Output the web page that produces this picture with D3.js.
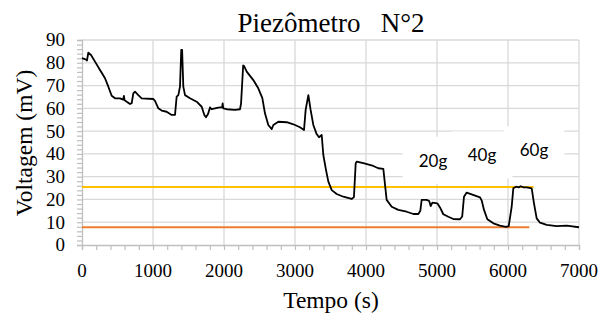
<!DOCTYPE html>
<html>
<head>
<meta charset="utf-8">
<script src="https://cdn.jsdelivr.net/npm/d3@7"></script>
<style>
  html, body { margin: 0; padding: 0; background: #fff; }
  svg { display: block; }
</style>
</head>
<body>
<svg id="chart" width="611" height="321"></svg>
<script>
// ---- data ----
const timeS = [0, 50, 70, 89, 127, 183, 254, 324, 371, 418, 465, 535, 580, 590, 600, 676, 700, 723, 746, 793, 840, 1005, 1030, 1075, 1122, 1192, 1263, 1310, 1333, 1357, 1380, 1398, 1410, 1427, 1451, 1521, 1615, 1686, 1723, 1746, 1775, 1803, 1826, 1920, 1975, 1981, 1990, 2038, 2155, 2225, 2240, 2270, 2282, 2320, 2413, 2483, 2540, 2577, 2624, 2672, 2695, 2765, 2883, 2977, 3070, 3127, 3150, 3188, 3220, 3258, 3305, 3338, 3376, 3399, 3437, 3470, 3517, 3587, 3681, 3798, 3830, 3855, 3869, 3962, 4103, 4173, 4244, 4291, 4362, 4455, 4573, 4667, 4737, 4765, 4784, 4855, 4890, 4911, 4935, 5005, 5042, 5089, 5160, 5230, 5324, 5355, 5380, 5418, 5488, 5606, 5630, 5662, 5709, 5794, 5887, 5972, 6010, 6052, 6075, 6113, 6150, 6180, 6220, 6263, 6334, 6366, 6404, 6451, 6545, 6686, 6827, 7000];
const voltageMV = [82.0, 81.5, 81.0, 84.4, 83.4, 80.5, 76.8, 73.2, 69.5, 65.5, 64.4, 64.4, 63.8, 65.5, 63.5, 61.9, 62.3, 66.6, 67.3, 65.8, 64.4, 64.1, 63.2, 60.0, 59.0, 58.5, 57.1, 57.1, 65.1, 65.8, 69.5, 85.6, 85.6, 69.5, 65.8, 64.4, 62.9, 60.7, 57.1, 56.1, 57.5, 60.4, 59.6, 60.3, 60.5, 62.2, 60.0, 59.6, 59.3, 59.6, 62.0, 78.8, 78.6, 76.1, 72.4, 68.8, 64.5, 57.8, 52.7, 50.9, 52.7, 54.1, 53.9, 53.0, 51.7, 50.5, 59.3, 65.8, 59.3, 52.7, 48.7, 47.3, 48.3, 39.5, 32.9, 27.8, 24.1, 22.4, 21.2, 20.2, 21.0, 35.9, 36.6, 35.9, 34.7, 33.7, 33.4, 19.8, 16.8, 15.4, 14.6, 13.6, 13.6, 15.0, 19.8, 19.8, 19.3, 17.1, 18.6, 18.3, 16.5, 13.5, 12.4, 11.4, 11.3, 12.5, 21.2, 23.0, 22.2, 20.9, 19.5, 15.4, 11.3, 9.5, 8.5, 8.0, 8.3, 16.8, 24.9, 25.6, 25.3, 25.8, 25.3, 25.3, 24.9, 18.3, 11.7, 9.8, 8.8, 8.3, 8.5, 7.8];

// horizontal reference levels: [level (mV), start time, end time]
const refLevels = [25.5, 7.8];
const refStarts = [0, 0];
const refEnds = [6360, 6300];
const refColors = ["#FFC000", "#ED7D31"];

// annotation labels (anchor in data units)
const noteTexts = ["20g", "40g", "60g"];
const noteTimes = [4944, 5634, 6366];
const noteVolts = [37.0, 39.3, 41.5];

const xTicks = [0, 1000, 2000, 3000, 4000, 5000, 6000, 7000];
const yTicks = [0, 10, 20, 30, 40, 50, 60, 70, 80, 90];
const xMinorTicks = d3.range(0, 7001, 200);
const yMinorTicks = d3.range(0, 91, 2);

const titleText = "Piezômetro   N°2";
const xTitle = "Tempo (s)";
const yTitle = "Voltagem (mV)";

// ---- layout ----
const svg = d3.select("#chart");
const L = 82, R = 579, T = 40, B = 245;
const x = d3.scaleLinear().domain([0, 7000]).range([L, R]);
const y = d3.scaleLinear().domain([0, 90]).range([B, T]);
const serif = "'Liberation Serif', 'Times New Roman', serif";
const gridColor = "#d9d9d9";
const axisColor = "#bfbfbf";

// gridlines
svg.append("g").selectAll("line").data(yTicks.filter(d => d > 0)).join("line")
  .attr("x1", L).attr("x2", R).attr("y1", d => y(d)).attr("y2", d => y(d))
  .attr("stroke", gridColor).attr("stroke-width", 1.3);
svg.append("g").selectAll("line").data(xTicks.filter(d => d > 0)).join("line")
  .attr("x1", d => x(d)).attr("x2", d => x(d)).attr("y1", T).attr("y2", B)
  .attr("stroke", gridColor).attr("stroke-width", 1.3);

// axes
const xAxisG = svg.append("g").attr("transform", `translate(0,${B})`)
  .call(d3.axisBottom(x).tickValues(xMinorTicks).tickSize(5).tickFormat(""));
const yAxisG = svg.append("g").attr("transform", `translate(${L},0)`)
  .call(d3.axisLeft(y).tickValues(yMinorTicks).tickSize(5).tickFormat(""));
[xAxisG, yAxisG].forEach(g => {
  g.select(".domain").attr("stroke", axisColor).attr("stroke-width", 1.3);
  g.selectAll(".tick line").attr("stroke", axisColor).attr("stroke-width", 1.2);
});

// tick labels
svg.append("g").selectAll("text").data(xTicks).join("text")
  .attr("x", d => x(d)).attr("y", 277)
  .attr("text-anchor", "middle")
  .attr("font-family", serif).attr("font-size", 19).attr("fill", "#000")
  .text(d => d);
svg.append("g").selectAll("text").data(yTicks).join("text")
  .attr("x", 65).attr("y", d => y(d))
  .attr("dy", "0.34em")
  .attr("text-anchor", "end")
  .attr("font-family", serif).attr("font-size", 19).attr("fill", "#000")
  .text(d => d);

// annotation boxes (white, covering gridlines)
const noteG = svg.append("g");
noteTexts.forEach((t, i) => {
  const g = noteG.append("g");
  const txt = g.append("text")
    .attr("x", x(noteTimes[i])).attr("y", y(noteVolts[i]))
    .attr("dy", "0.35em")
    .attr("text-anchor", "middle")
    .attr("font-family", "Lato, 'Noto Sans', sans-serif")
    .attr("font-size", 17).attr("fill", "#000")
    .text(t);
  const bb = txt.node().getBBox();
  g.insert("rect", "text")
    .attr("x", bb.x - 16).attr("y", bb.y - 13)
    .attr("width", bb.width + 32).attr("height", bb.height + 26)
    .attr("fill", "#fff");
});

// reference lines
svg.append("g").selectAll("line").data(refLevels).join("line")
  .attr("x1", (d, i) => x(refStarts[i])).attr("x2", (d, i) => x(refEnds[i]))
  .attr("y1", d => y(d)).attr("y2", d => y(d))
  .attr("stroke", (d, i) => refColors[i]).attr("stroke-width", 2);

// data line
const pts = timeS.map((t, i) => [t, voltageMV[i]]);
svg.append("path").datum(pts)
  .attr("fill", "none").attr("stroke", "#000").attr("stroke-width", 1.8)
  .attr("stroke-linejoin", "round")
  .attr("d", d3.line().x(d => x(d[0])).y(d => y(d[1])));

// titles
svg.append("text").attr("x", 331).attr("y", 32)
  .attr("text-anchor", "middle").attr("font-family", serif).attr("font-size", 27)
  .attr("xml:space", "preserve").style("white-space", "pre")
  .text(titleText);
svg.append("text").attr("x", 331).attr("y", 308)
  .attr("text-anchor", "middle").attr("font-family", serif).attr("font-size", 23.5)
  .text(xTitle);
svg.append("text")
  .attr("transform", `translate(32,143) rotate(-90)`)
  .attr("text-anchor", "middle").attr("font-family", serif).attr("font-size", 23.5)
  .text(yTitle);
</script>
</body>
</html>
